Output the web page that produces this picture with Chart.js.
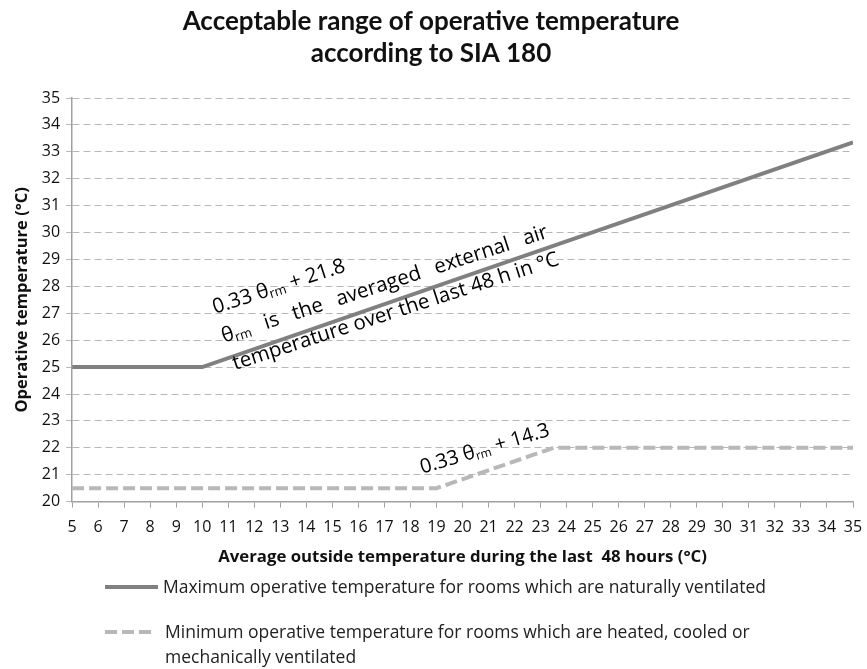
<!DOCTYPE html>
<html>
<head>
<meta charset="utf-8">
<script src="https://cdn.jsdelivr.net/npm/chart.js@4.4.1/dist/chart.umd.min.js"></script>
<style>
  html,body{margin:0;padding:0;background:#fff;}
  #wrap{position:relative;width:867px;height:669px;}
</style>
</head>
<body>
<div id="wrap"><canvas id="c" width="867" height="669"></canvas></div>
<script>
// data
const xTicks=[5,6,7,8,9,10,11,12,13,14,15,16,17,18,19,20,21,22,23,24,25,26,27,28,29,30,31,32,33,34,35];
const maxX=[5,10,35];
const maxY=[25,25,33.35];
const minX=[5,19,23.5,35];
const minY=[20.5,20.5,22,22];
const titleLines=['Acceptable range of operative temperature','according to SIA 180'];
const legendMax='Maximum operative temperature for rooms which are naturally ventilated';
const legendMin=['Minimum operative temperature for rooms which are heated, cooled or','mechanically ventilated'];

const TFONT='Lato, sans-serif';
const FONT='"Open Sans", sans-serif';
const pts=(xs,ys)=>xs.map((x,i)=>({x,y:ys[i]}));

// text with θ_rm subscripts, parts: [text, isSub]
function richWidth(ctx,parts,size){let w=0;for(const[t,s]of parts){ctx.font=`${s?Math.round(size*0.62):size}px ${FONT}`;w+=ctx.measureText(t).width;}return w;}
function drawRich(ctx,parts,size,x,y){let cx=x;for(const[t,s]of parts){ctx.font=`${s?Math.round(size*0.62):size}px ${FONT}`;ctx.fillText(t,cx,s?y+size*0.12:y);cx+=ctx.measureText(t).width;}}

const notes={
  id:'notes',
  afterDatasetsDraw(chart){
    const ctx=chart.ctx,sx=chart.scales.x,sy=chart.scales.y;
    ctx.save();ctx.fillStyle='#000';ctx.textBaseline='alphabetic';ctx.textAlign='left';
    const put=(dx,dy,ang,fn)=>{ctx.save();ctx.translate(sx.getPixelForValue(dx),sy.getPixelForValue(dy));ctx.rotate(ang*Math.PI/180);fn();ctx.restore();};
    const size=20.5;
    put(10.49,26.98,-18,()=>drawRich(ctx,[['0.33 θ',0],['rm',1],[' + 21.8',0]],size,0,0));
    // justified second line, width matched to third line
    ctx.font=`${size}px ${FONT}`;
    const l3='temperature over the last 48 h in °C';
    const target=ctx.measureText(l3).width;
    put(10.84,25.90,-18,()=>{
      const words=[[['θ',0],['rm',1]],[['is',0]],[['the',0]],[['averaged',0]],[['external',0]],[['air',0]]];
      const ws=words.map(w=>richWidth(ctx,w,size));
      const gap=(target-ws.reduce((a,b)=>a+b,0))/(words.length-1);
      let x=0;words.forEach((w,i)=>{drawRich(ctx,w,size,x,0);x+=ws[i]+gap;});
    });
    put(11.26,24.89,-18,()=>{ctx.font=`${size}px ${FONT}`;ctx.fillText(l3,0,0);});
    put(18.45,21.04,-16.5,()=>drawRich(ctx,[['0.33 θ',0],['rm',1],[' + 14.3',0]],20,0,0));
    ctx.restore();
  },
  afterDraw(chart){
    const ctx=chart.ctx;ctx.save();
    ctx.fillStyle='#111';ctx.font=`bold 26px ${TFONT}`;ctx.textAlign='center';ctx.textBaseline='middle';
    ctx.fillText(titleLines[0],431,22);ctx.fillText(titleLines[1],431,54);
    // legend
    ctx.textAlign='left';ctx.textBaseline='middle';ctx.font=`17.5px ${FONT}`;ctx.fillStyle='#222';
    ctx.lineWidth=4;ctx.strokeStyle='#808080';ctx.setLineDash([]);
    ctx.beginPath();ctx.moveTo(105,587);ctx.lineTo(158,587);ctx.stroke();
    ctx.fillText(legendMax,163,588);
    ctx.strokeStyle='#b8b8b8';ctx.setLineDash([12,5]);
    ctx.beginPath();ctx.moveTo(105,632);ctx.lineTo(155,632);ctx.stroke();
    ctx.fillText(legendMin[0],165,633);ctx.fillText(legendMin[1],165,658);
    ctx.restore();
  }
};

new Chart(document.getElementById('c'),{
  type:'line',
  data:{datasets:[
    {label:'max',data:pts(maxX,maxY),borderColor:'#808080',borderWidth:4,pointRadius:0,tension:0,fill:false},
    {label:'min',data:pts(minX,minY),borderColor:'#b8b8b8',borderWidth:4,borderDash:[12,5],pointRadius:0,tension:0,fill:false}
  ]},
  options:{
    responsive:false,animation:false,
    layout:{padding:{top:98,right:14,bottom:98,left:8}},
    plugins:{legend:{display:false},tooltip:{enabled:false},title:{display:false}},
    scales:{
      x:{type:'linear',min:5,max:35,
        afterBuildTicks:s=>{s.ticks=xTicks.map(v=>({value:v}));},
        afterFit:s=>{s.paddingRight=0;},
        grid:{drawOnChartArea:false,drawTicks:true,tickLength:6,color:'#a0a0a0'},
        border:{color:'#a0a0a0',width:1.5},
        ticks:{color:'#111',font:{family:FONT,size:16},padding:10,maxRotation:0,autoSkip:false},
        title:{display:true,text:'Average outside temperature during the last  48 hours (°C)',color:'#111',font:{family:FONT,size:16.8,weight:'bold'},padding:{top:0}}
      },
      y:{min:20,max:35,
        ticks:{stepSize:1,color:'#111',font:{family:FONT,size:16},padding:6},
        grid:{color:'#b8b8b8',tickLength:6,lineWidth:1},
        border:{color:'#a0a0a0',width:1.5,dash:[7,4]},
        title:{display:true,text:'Operative temperature (°C)',color:'#111',font:{family:FONT,size:16.5,weight:'bold'},padding:{bottom:4}}
      }
    }
  },
  plugins:[notes]
});
</script>
</body>
</html>
